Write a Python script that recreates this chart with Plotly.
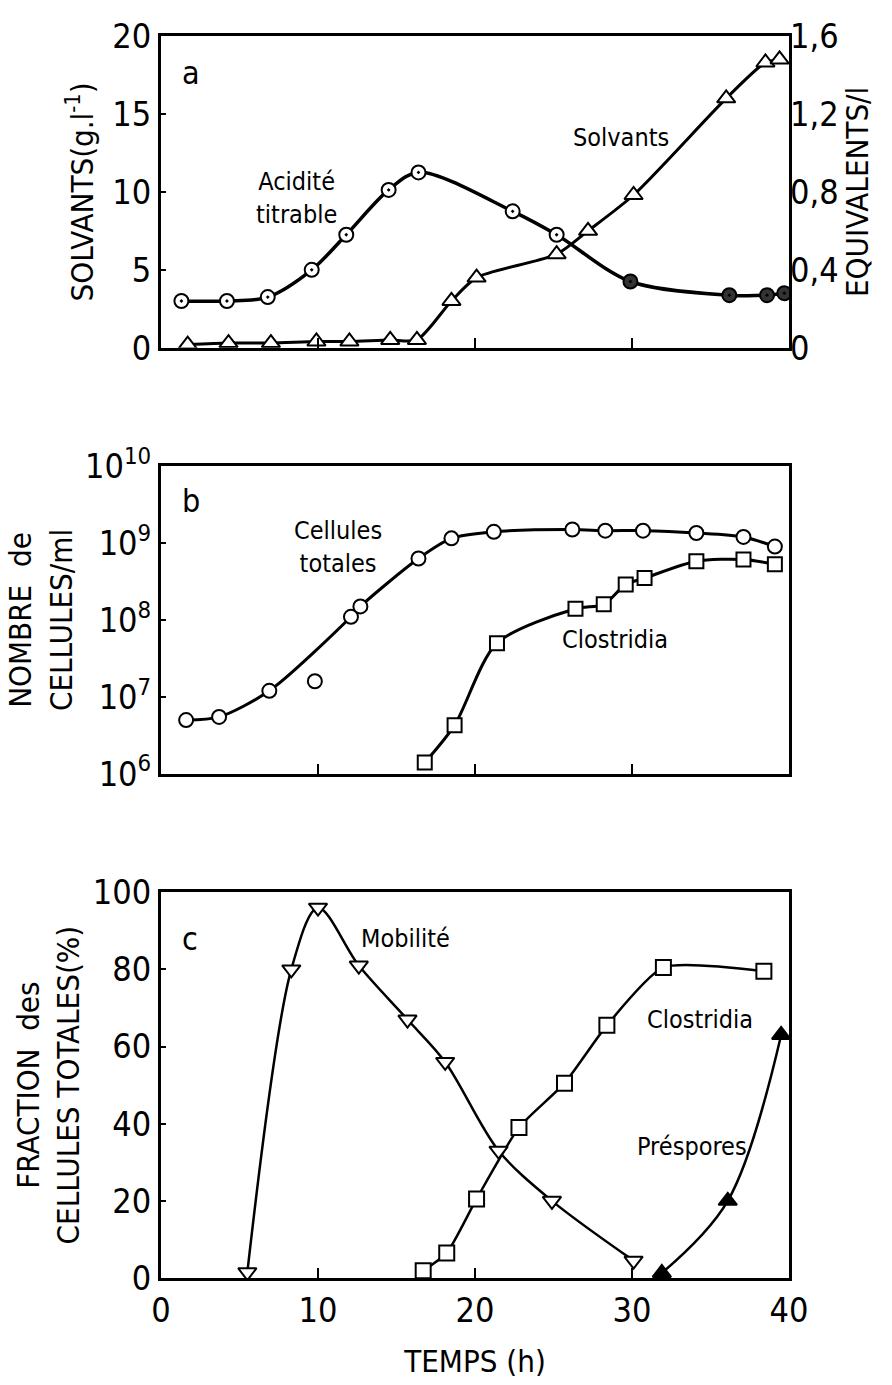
import plotly.graph_objects as go

FONT = "DejaVu Sans Condensed, Liberation Sans Narrow, DejaVu Sans, sans-serif"

# ---- panel a ----
acid_t = [1.3, 4.2, 6.8, 9.6, 11.8, 14.5, 16.4, 22.4, 25.2, 29.9, 36.2, 38.6, 39.7]
acid_eq = [0.24, 0.24, 0.26, 0.40, 0.58, 0.81, 0.90, 0.70, 0.58, 0.34, 0.27, 0.27, 0.28]
solv_t = [1.7, 4.3, 7.0, 9.9, 12.0, 14.6, 16.3, 18.5, 20.1, 25.2, 27.2, 30.1, 36.0, 38.5, 39.4]
solv_g = [0.2, 0.3, 0.3, 0.4, 0.4, 0.5, 0.5, 3.0, 4.5, 6.0, 7.5, 9.8, 16.0, 18.3, 18.5]

# ---- panel b ----
tot_t = [1.6, 3.7, 6.9, 9.8, 12.1, 12.7, 16.4, 18.5, 21.2, 26.2, 28.3, 30.7, 34.1, 37.1, 39.1]
tot_n = [5.0e6, 5.5e6, 1.2e7, 1.6e7, 1.1e8, 1.5e8, 6.3e8, 1.15e9, 1.4e9, 1.5e9, 1.45e9, 1.45e9, 1.35e9, 1.2e9, 9.0e8]
tot_outlier = 3  # index of the point the fitted curve does not pass through
clo_t = [16.8, 18.7, 21.4, 26.4, 28.2, 29.6, 30.8, 34.1, 37.1, 39.1]
clo_n = [1.4e6, 4.3e6, 5.0e7, 1.4e8, 1.6e8, 2.9e8, 3.5e8, 5.8e8, 6.1e8, 5.3e8]

# ---- panel c ----
mob_t = [5.5, 8.3, 10.0, 12.6, 15.7, 18.1, 21.5, 24.9, 30.1]
mob_p = [1.5, 80, 96, 81, 67, 56, 33, 20, 4.5]
cfr_t = [16.7, 18.2, 20.1, 22.8, 25.7, 28.4, 32.0, 38.4]
cfr_p = [1.9, 6.5, 20.5, 39, 50.5, 65.5, 80.5, 79.5]
pre_t = [31.9, 36.1, 39.5]
pre_p = [1.3, 20, 63]

x_ticks = [0, 10, 20, 30, 40]
a_left_ticks = [0, 5, 10, 15, 20]
a_right_vals = [0, 0.4, 0.8, 1.2, 1.6]
a_right_text = ["0", "0,4", "0,8", "1,2", "1,6"]
b_vals = [1e6, 1e7, 1e8, 1e9, 1e10]
b_text = ["10<sup>6</sup>", "10<sup>7</sup>", "10<sup>8</sup>", "10<sup>9</sup>", "10<sup>10</sup>"]
c_ticks = [0, 20, 40, 60, 80, 100]

fig = go.Figure()


def curve(x, y, xa, ya, width=3, smooth=0.9):
    fig.add_trace(go.Scatter(x=x, y=y, xaxis=xa, yaxis=ya, mode="lines",
                             line=dict(color="black", width=width, shape="spline", smoothing=smooth),
                             hoverinfo="skip", showlegend=False))


def marks(x, y, xa, ya, symbol, size=14, fill="white"):
    fig.add_trace(go.Scatter(x=x, y=y, xaxis=xa, yaxis=ya, mode="markers",
                             marker=dict(symbol=symbol, size=size, color=fill,
                                         line=dict(color="black", width=2)),
                             showlegend=False))


# panel a
curve(acid_t, acid_eq, "x", "y2", width=3.5)
curve(solv_t, solv_g, "x", "y", width=3, smooth=0.7)
marks(solv_t, solv_g, "x", "y", "triangle-up", size=16)
acid_fill = ["white"] * 9 + ["#333333"] * 4
marks(acid_t, acid_eq, "x", "y2", "circle-dot", size=14, fill=acid_fill)

# panel b
fit_t = [t for i, t in enumerate(tot_t) if i != tot_outlier]
fit_n = [n for i, n in enumerate(tot_n) if i != tot_outlier]
curve(fit_t, fit_n, "x2", "y3", width=3, smooth=0.8)
curve(clo_t, clo_n, "x2", "y3", width=3, smooth=0.8)
marks(tot_t, tot_n, "x2", "y3", "circle", size=14)
marks(clo_t, clo_n, "x2", "y3", "square", size=14)

# panel c
curve(mob_t, mob_p, "x3", "y4", width=2.5, smooth=0.9)
curve(cfr_t, cfr_p, "x3", "y4", width=2.5, smooth=0.6)
curve(pre_t, pre_p, "x3", "y4", width=2.5, smooth=1.0)
marks(mob_t, mob_p, "x3", "y4", "triangle-down", size=16)
marks(cfr_t, cfr_p, "x3", "y4", "square", size=15)
marks(pre_t, pre_p, "x3", "y4", "triangle-up", size=16, fill="black")

tickfont = dict(family=FONT, size=34, color="black")
titlefont = dict(family=FONT, size=31, color="black")
frame = dict(showline=True, linewidth=3, linecolor="black", mirror=True,
             showgrid=False, zeroline=False)

xcommon = dict(range=[0, 40], domain=[0, 1], ticks="inside", ticklen=10, tickwidth=2,
               tickcolor="black", **frame)

fig.update_layout(
    width=892, height=1385,
    margin=dict(l=161, r=103, t=27, b=99),
    plot_bgcolor="white", paper_bgcolor="white",
    font=dict(family=FONT, color="black"),
    xaxis=dict(anchor="y", tickvals=[10, 20, 30], showticklabels=False, **xcommon),
    xaxis2=dict(anchor="y3", tickvals=[10, 20, 30], showticklabels=False, **xcommon),
    xaxis3=dict(anchor="y4", tickvals=x_ticks, ticktext=[str(v) for v in x_ticks],
                tickfont=tickfont, ticklabelstandoff=0,
                title=dict(text="TEMPS (h)", font=titlefont, standoff=22), **xcommon),
    yaxis=dict(domain=[0.749, 1.0], anchor="x", range=[0, 20], tickvals=a_left_ticks,
               ticks="inside", ticklen=5, tickwidth=2, tickcolor="black", tickfont=tickfont,
               title=dict(text="SOLVANTS(g.l<sup>-1</sup>)", font=titlefont, standoff=10),
               **frame),
    yaxis2=dict(overlaying="y", side="right", anchor="x", range=[0, 1.6], tickvals=a_right_vals,
                ticktext=a_right_text, ticks="", tickfont=tickfont, showgrid=False, zeroline=False,
                showline=False,
                title=dict(text="EQUIVALENTS/l", font=titlefont, standoff=6)),
    yaxis3=dict(domain=[0.4059, 0.6537], anchor="x2", type="log", range=[6, 10], tickvals=b_vals,
                ticktext=b_text, ticks="inside", ticklen=5, tickwidth=2, tickcolor="black",
                tickfont=tickfont,
                title=dict(text="NOMBRE  de<br>CELLULES/ml", font=titlefont, standoff=4),
                **frame),
    yaxis4=dict(domain=[0, 0.3106], anchor="x3", range=[0, 100], tickvals=c_ticks,
                ticks="inside", ticklen=5, tickwidth=2, tickcolor="black", tickfont=tickfont,
                title=dict(text="FRACTION  des<br>CELLULES TOTALES(%)", font=titlefont, standoff=4),
                **frame),
)

lab = dict(family=FONT, size=25, color="black")
big = dict(family=FONT, size=32, color="black")
ann = [
    dict(x=1.2, y=17.6, xref="x", yref="y", text="a", font=big, showarrow=False, xanchor="left"),
    dict(x=8.6, y=9.6, xref="x", yref="y", text="Acidité<br>titrable", font=lab, showarrow=False),
    dict(x=29.3, y=13.5, xref="x", yref="y", text="Solvants", font=lab, showarrow=False),
    dict(x=1.2, y=9.55, xref="x2", yref="y3", text="b", font=big, showarrow=False, xanchor="left"),
    dict(x=11.3, y=8.95, xref="x2", yref="y3", text="Cellules<br>totales", font=lab, showarrow=False),
    dict(x=28.9, y=7.75, xref="x2", yref="y3", text="Clostridia", font=lab, showarrow=False),
    dict(x=1.2, y=88, xref="x3", yref="y4", text="c", font=big, showarrow=False, xanchor="left"),
    dict(x=15.6, y=88, xref="x3", yref="y4", text="Mobilité", font=lab, showarrow=False),
    dict(x=34.3, y=67, xref="x3", yref="y4", text="Clostridia", font=lab, showarrow=False),
    dict(x=33.8, y=34, xref="x3", yref="y4", text="Préspores", font=lab, showarrow=False),
]
fig.update_layout(annotations=ann)

fig.write_html("out.html")
